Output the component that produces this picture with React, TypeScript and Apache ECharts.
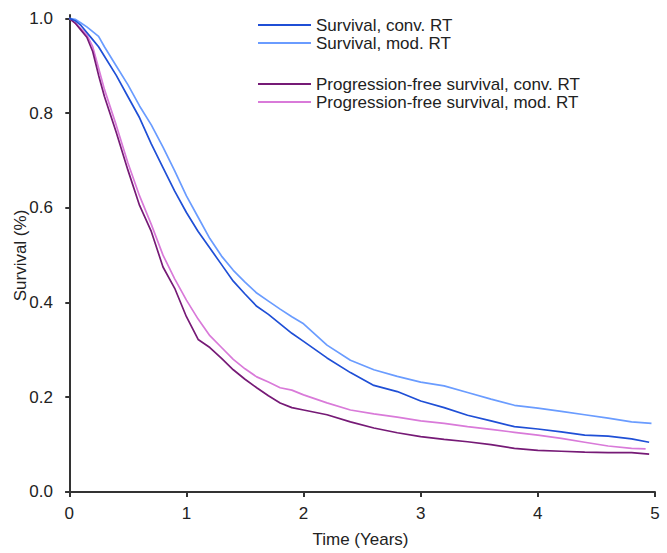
import React, { useEffect, useRef } from "react";
import * as echarts from "echarts";

// Time points (years) shared by all curves
const times = [0, 0.05, 0.1, 0.15, 0.2, 0.25, 0.3, 0.4, 0.5, 0.6, 0.7, 0.8, 0.9, 1.0, 1.1, 1.2, 1.3, 1.4, 1.5, 1.6, 1.7, 1.8, 1.9, 2.0, 2.2, 2.4, 2.6, 2.8, 3.0, 3.2, 3.4, 3.6, 3.8, 4.0, 4.2, 4.4, 4.6, 4.8];

const survConvEnd = 4.95;
const survConv = [1.0, 0.995, 0.985, 0.97, 0.955, 0.94, 0.92, 0.88, 0.835, 0.79, 0.735, 0.685, 0.635, 0.59, 0.55, 0.515, 0.48, 0.445, 0.418, 0.392, 0.375, 0.355, 0.335, 0.318, 0.283, 0.252, 0.225, 0.212, 0.192, 0.178, 0.162, 0.15, 0.138, 0.133, 0.127, 0.12, 0.118, 0.112, 0.105];

const survModEnd = 4.97;
const survMod = [1.0, 0.998, 0.99, 0.982, 0.972, 0.962, 0.94, 0.9, 0.86, 0.815, 0.775, 0.728, 0.678, 0.625, 0.58, 0.535, 0.498, 0.468, 0.443, 0.42, 0.403, 0.386, 0.37, 0.355, 0.31, 0.278, 0.258, 0.244, 0.232, 0.224, 0.21, 0.196, 0.183, 0.177, 0.17, 0.163, 0.156, 0.148, 0.145];

const pfsConvEnd = 4.95;
const pfsConv = [1.0, 0.99, 0.975, 0.96, 0.93, 0.88, 0.835, 0.76, 0.68, 0.605, 0.55, 0.475, 0.43, 0.37, 0.322, 0.305, 0.282, 0.258, 0.238, 0.22, 0.203, 0.188, 0.178, 0.173, 0.163, 0.148, 0.135, 0.125, 0.117, 0.111, 0.106, 0.1, 0.092, 0.088, 0.086, 0.084, 0.083, 0.083, 0.08];

const pfsModEnd = 4.92;
const pfsMod = [1.0, 0.99, 0.978, 0.965, 0.94, 0.895, 0.85, 0.775, 0.695, 0.625, 0.565, 0.5, 0.45, 0.405, 0.365, 0.33, 0.305, 0.28, 0.26, 0.243, 0.232, 0.22, 0.215, 0.205, 0.188, 0.173, 0.165, 0.158, 0.15, 0.145, 0.138, 0.132, 0.126, 0.12, 0.113, 0.105, 0.097, 0.092, 0.091];

const seriesNames = [
  "Survival, conv. RT",
  "Survival, mod. RT",
  "Progression-free survival, conv. RT",
  "Progression-free survival, mod. RT",
];
const seriesColors = ["#1f4fd6", "#6a9cff", "#761a76", "#d97ad9"];

const xTicks = [0, 1, 2, 3, 4, 5];
const yTicks = [0, 0.2, 0.4, 0.6, 0.8, 1.0];

function toPairs(values: number[], end: number) {
  const t = [...times, end];
  return values.map((v, i) => [t[i], v]);
}

const FONT = "'Liberation Sans', Arial, sans-serif";

export default function App() {
  const ref = useRef<HTMLDivElement>(null);
  useEffect(() => {
    if (!ref.current) return;
    const chart = echarts.init(ref.current, null, { renderer: "svg" });
    const seriesData = [
      toPairs(survConv, survConvEnd),
      toPairs(survMod, survModEnd),
      toPairs(pfsConv, pfsConvEnd),
      toPairs(pfsMod, pfsModEnd),
    ];
    const legendText = { fontFamily: FONT, fontSize: 17, color: "#222", lineHeight: 18 };
    chart.setOption({
      animation: false,
      backgroundColor: "#ffffff",
      textStyle: { fontFamily: FONT },
      grid: { left: 66, right: 12, top: 15, bottom: 57, containLabel: false, outerBoundsMode: "none" },
      legend: [
        {
          data: seriesNames.slice(0, 2),
          orient: "vertical",
          left: 258,
          top: 16,
          padding: 0,
          itemGap: 0,
          itemWidth: 53,
          itemHeight: 2,
          icon: "rect",
          textStyle: legendText,
        },
        {
          data: seriesNames.slice(2, 4),
          orient: "vertical",
          left: 258,
          top: 75,
          padding: 0,
          itemGap: 0,
          itemWidth: 53,
          itemHeight: 2,
          icon: "rect",
          textStyle: legendText,
        },
      ],
      xAxis: {
        type: "value",
        min: -0.028,
        max: 5,
        name: "Time (Years)",
        nameLocation: "middle",
        nameGap: 35,
        nameMoveOverlap: false,
        nameTextStyle: { fontFamily: FONT, fontSize: 17, color: "#222" },
        axisLine: { show: true, lineStyle: { color: "#333", width: 2 } },
        axisTick: { show: true, length: 5, lineStyle: { color: "#333", width: 2 }, customValues: xTicks },
        axisLabel: {
          fontFamily: FONT,
          fontSize: 17,
          color: "#222",
          margin: 9,
          customValues: xTicks,
          formatter: (v: number) => String(Math.round(v)),
        },
        splitLine: { show: false },
      },
      yAxis: {
        type: "value",
        min: -0.0085,
        max: 1.007,
        name: "Survival (%)",
        nameLocation: "middle",
        nameGap: 37,
        nameMoveOverlap: false,
        nameTextStyle: { fontFamily: FONT, fontSize: 17, color: "#222" },
        axisLine: { show: true, lineStyle: { color: "#333", width: 2 } },
        axisTick: { show: true, length: 4, lineStyle: { color: "#333", width: 2 }, customValues: yTicks },
        axisLabel: {
          fontFamily: FONT,
          fontSize: 17,
          color: "#222",
          margin: 13,
          customValues: yTicks,
          formatter: (v: number) => v.toFixed(1),
        },
        splitLine: { show: false },
      },
      series: seriesNames.map((name, i) => ({
        name,
        type: "line",
        data: seriesData[i],
        showSymbol: false,
        symbol: "none",
        lineStyle: { color: seriesColors[i], width: 1.7 },
        itemStyle: { color: seriesColors[i] },
        z: 4 - i,
      })),
    });
    return () => chart.dispose();
  }, []);
  return (
    <div
      ref={ref}
      style={{ position: "fixed", left: 0, top: 0, width: 667, height: 553, background: "#fff" }}
    />
  );
}
